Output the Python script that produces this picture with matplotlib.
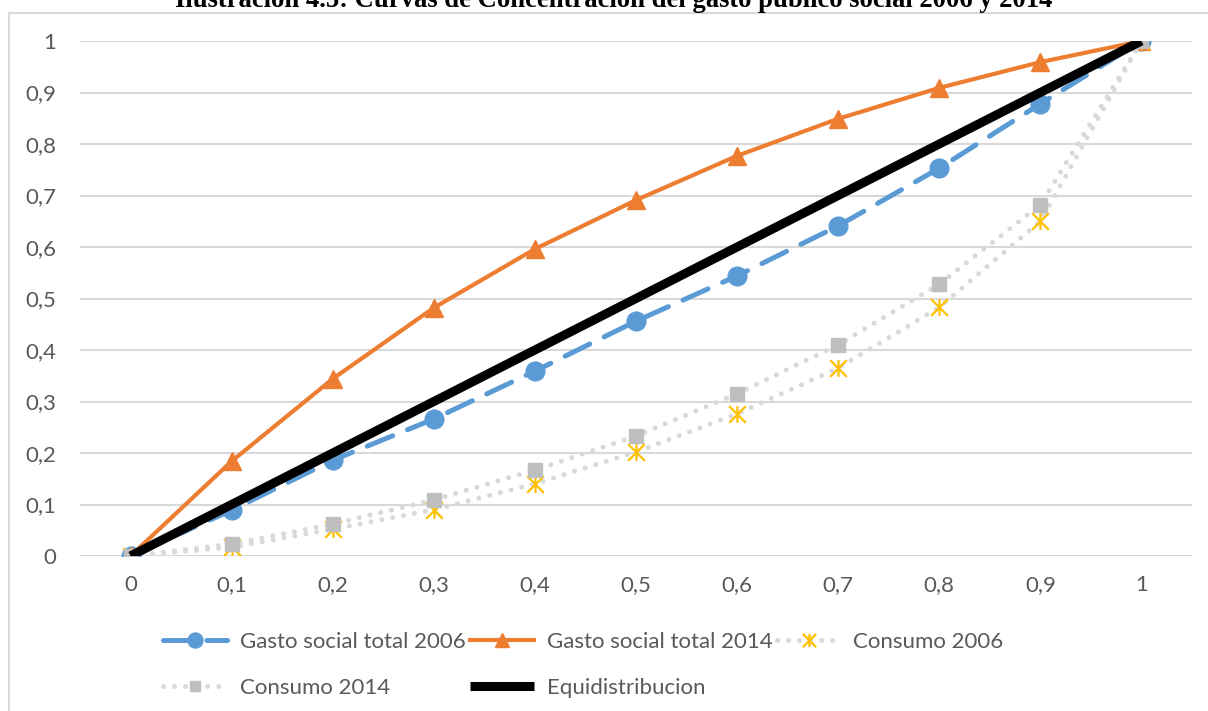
import matplotlib
matplotlib.use("Agg")
import matplotlib.pyplot as plt
from matplotlib.lines import Line2D
from matplotlib.path import Path

# deciles of population (x) and cumulative shares (y)
deciles = [0, 0.1, 0.2, 0.3, 0.4, 0.5, 0.6, 0.7, 0.8, 0.9, 1]
tick_labels = ["0", "0,1", "0,2", "0,3", "0,4", "0,5", "0,6", "0,7", "0,8", "0,9", "1"]

gasto_2006 = [0, 0.089, 0.186, 0.266, 0.359, 0.456, 0.544, 0.641, 0.753, 0.878, 1]
gasto_2014 = [0, 0.184, 0.344, 0.482, 0.596, 0.691, 0.777, 0.849, 0.909, 0.959, 1]
consumo_2006 = [0, 0.017, 0.052, 0.090, 0.140, 0.202, 0.276, 0.365, 0.483, 0.650, 1]
consumo_2014 = [0, 0.023, 0.062, 0.109, 0.167, 0.233, 0.315, 0.410, 0.528, 0.682, 1]
equidistribucion = [0, 0.1, 0.2, 0.3, 0.4, 0.5, 0.6, 0.7, 0.8, 0.9, 1]

W, H = 1208, 711
fig = plt.figure(figsize=(W / 100, H / 100), dpi=100)
ax = fig.add_axes([80 / W, 1 - 556 / H, (1192 - 80) / W, (556 - 41) / H])

text_font = "Lato"
grey_text = "#595959"
dotted = (0, (0.01, 2.2))

# excel-like asterisk: vertical bar plus an X
star = Path([(0, -1), (0, 1), (-1, -1), (1, 1), (-1, 1), (1, -1)],
            [Path.MOVETO, Path.LINETO, Path.MOVETO, Path.LINETO, Path.MOVETO, Path.LINETO])

h1, = ax.plot(deciles, gasto_2006, color="#5b9bd5", lw=3.6, dashes=(5.5, 3.2), dash_capstyle="round",
              marker="o", ms=13.5, label="Gasto social total 2006", zorder=3)
h2, = ax.plot(deciles, gasto_2014, color="#ed7d31", lw=3, marker="^", ms=13,
              label="Gasto social total 2014", zorder=4)
h3, = ax.plot(deciles, consumo_2006, color="#d9d9d9", lw=3.6, linestyle=dotted, dash_capstyle="round",
              marker=star, ms=12, mec="#ffc000", mfc="none", mew=1.6,
              label="Consumo 2006", zorder=5)
h4, = ax.plot(deciles, consumo_2014, color="#d9d9d9", lw=3.6, linestyle=dotted, dash_capstyle="round",
              marker="s", ms=9.5, mec="#bfbfbf", mfc="#bfbfbf",
              label="Consumo 2014", zorder=6)
h5, = ax.plot(deciles, equidistribucion, color="black", lw=6.5, solid_capstyle="butt",
              label="Equidistribucion", zorder=7)

ax.set_xlim(-0.05, 1.05)
ax.set_ylim(0, 1)
ax.set_xticks(deciles)
ax.set_xticklabels(tick_labels)
ax.set_yticks(deciles)
ax.set_yticklabels(tick_labels)
ax.tick_params(length=0, labelsize=16, labelcolor=grey_text)
ax.tick_params(axis="y", pad=17)
ax.tick_params(axis="x", pad=14)
for lab in ax.get_xticklabels() + ax.get_yticklabels():
    lab.set_fontfamily(text_font)

ax.grid(axis="y", color="#d9d9d9", lw=1.5)
ax.set_axisbelow(True)
for s in ax.spines.values():
    s.set_visible(False)

# legend fills column by column, so order it to read row by row
order = [h1, h4, h2, h5, h3]
leg = ax.legend(order, [h.get_label() for h in order],
                loc="upper left", bbox_to_anchor=(163 / W, 1 - 632 / H),
                bbox_transform=fig.transFigure, ncol=3, frameon=False,
                prop={"family": text_font, "size": 16}, handlelength=2.9,
                handletextpad=0.55, columnspacing=0.2, labelspacing=1.15,
                borderpad=0, borderaxespad=0, markerscale=0.8)
for t in leg.get_texts():
    t.set_color(grey_text)

# chart area border (only left and top visible in the crop)
fig.add_artist(Line2D([8.5 / W, 8.5 / W], [0, 1 - 12.5 / H], color="#d9d9d9", lw=1.5))
fig.add_artist(Line2D([8.5 / W, 1], [1 - 12.5 / H, 1 - 12.5 / H], color="#d9d9d9", lw=1.5))

fig.text(613.5 / W, 1 - 7 / H,
         "Ilustración 4.5: Curvas de Concentración del gasto público social 2006 y 2014",
         ha="center", va="baseline", fontsize=19.2, fontweight="bold",
         family="Liberation Serif")

fig.savefig("out.png", dpi=100)
